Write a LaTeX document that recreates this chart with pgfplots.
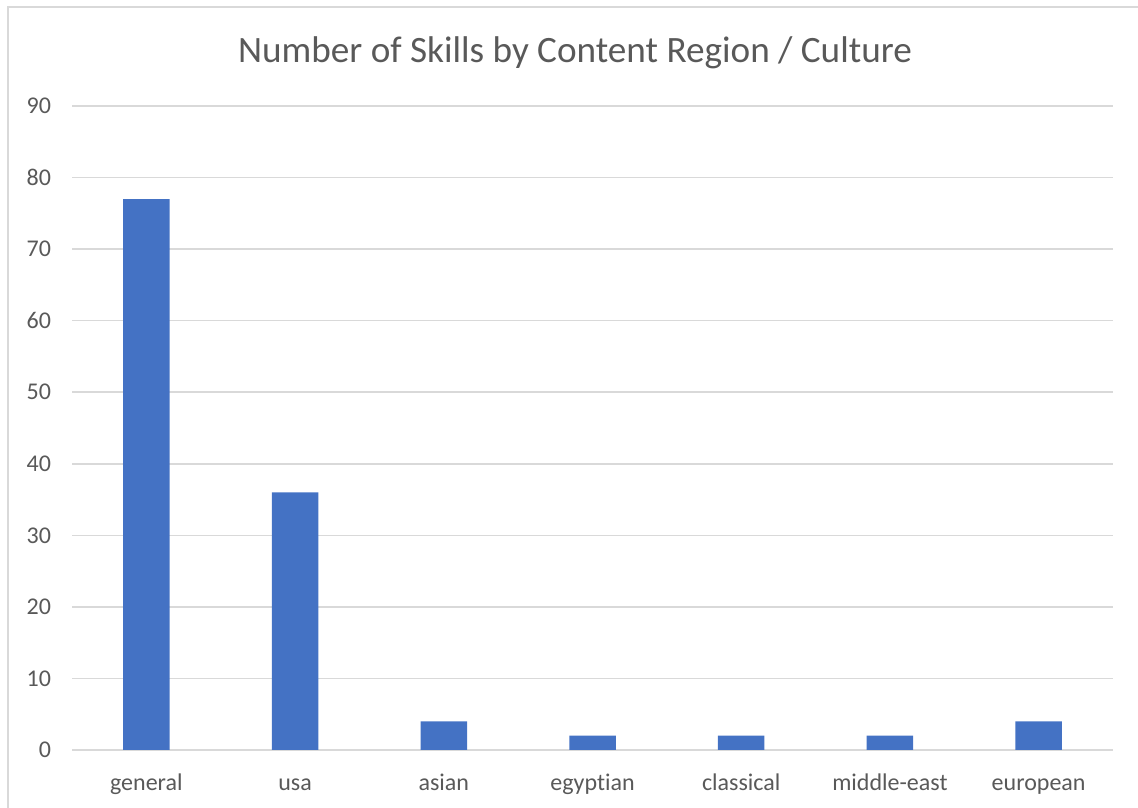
\documentclass[border=0pt]{standalone}
\usepackage{fontspec}
\setmainfont{Carlito}[Ligatures={NoCommon}]
\usepackage{pgfplots}
\pgfplotsset{compat=1.18}
\definecolor{barblue}{HTML}{4472C4}
\definecolor{txtgray}{HTML}{595959}
\definecolor{gridgray}{HTML}{D9D9D9}
\begin{document}
\begin{tikzpicture}
\useasboundingbox (0,0) rectangle (569pt,403.5pt);
\draw[gridgray, line width=0.75pt] (4pt,-2pt) -- (4pt,400pt) -- (572pt,400pt);
\node[txtgray, anchor=base, font=\fontsize{18.6}{22}\selectfont] at (287.5pt,372pt) {Number of Skills by Content Region / Culture};
\begin{axis}[
  at={(36pt,28.5pt)}, anchor=south west,
  scale only axis, width=520.5pt, height=322pt,
  ymin=0, ymax=90, xmin=-0.5, xmax=6.5,
  ytick={0,10,...,90},
  xtick=data,
  xticklabels={general,usa,asian,egyptian,classical,middle-east,european},
  ymajorgrids,
  grid style={gridgray, line width=0.8pt},
  axis line style={draw=none},
  major tick length=0pt,
  tick label style={txtgray, font=\fontsize{12}{14}\selectfont},
  yticklabel style={xshift=-7pt},
  xticklabel style={anchor=base, yshift=-20pt},
  /pgf/number format/assume math mode=true,
  ybar, bar width=23.25pt,
]
\addplot[fill=barblue, draw=none] coordinates {(0,77) (1,36) (2,4) (3,2) (4,2) (5,2) (6,4)};
\end{axis}
\end{tikzpicture}
\end{document}
